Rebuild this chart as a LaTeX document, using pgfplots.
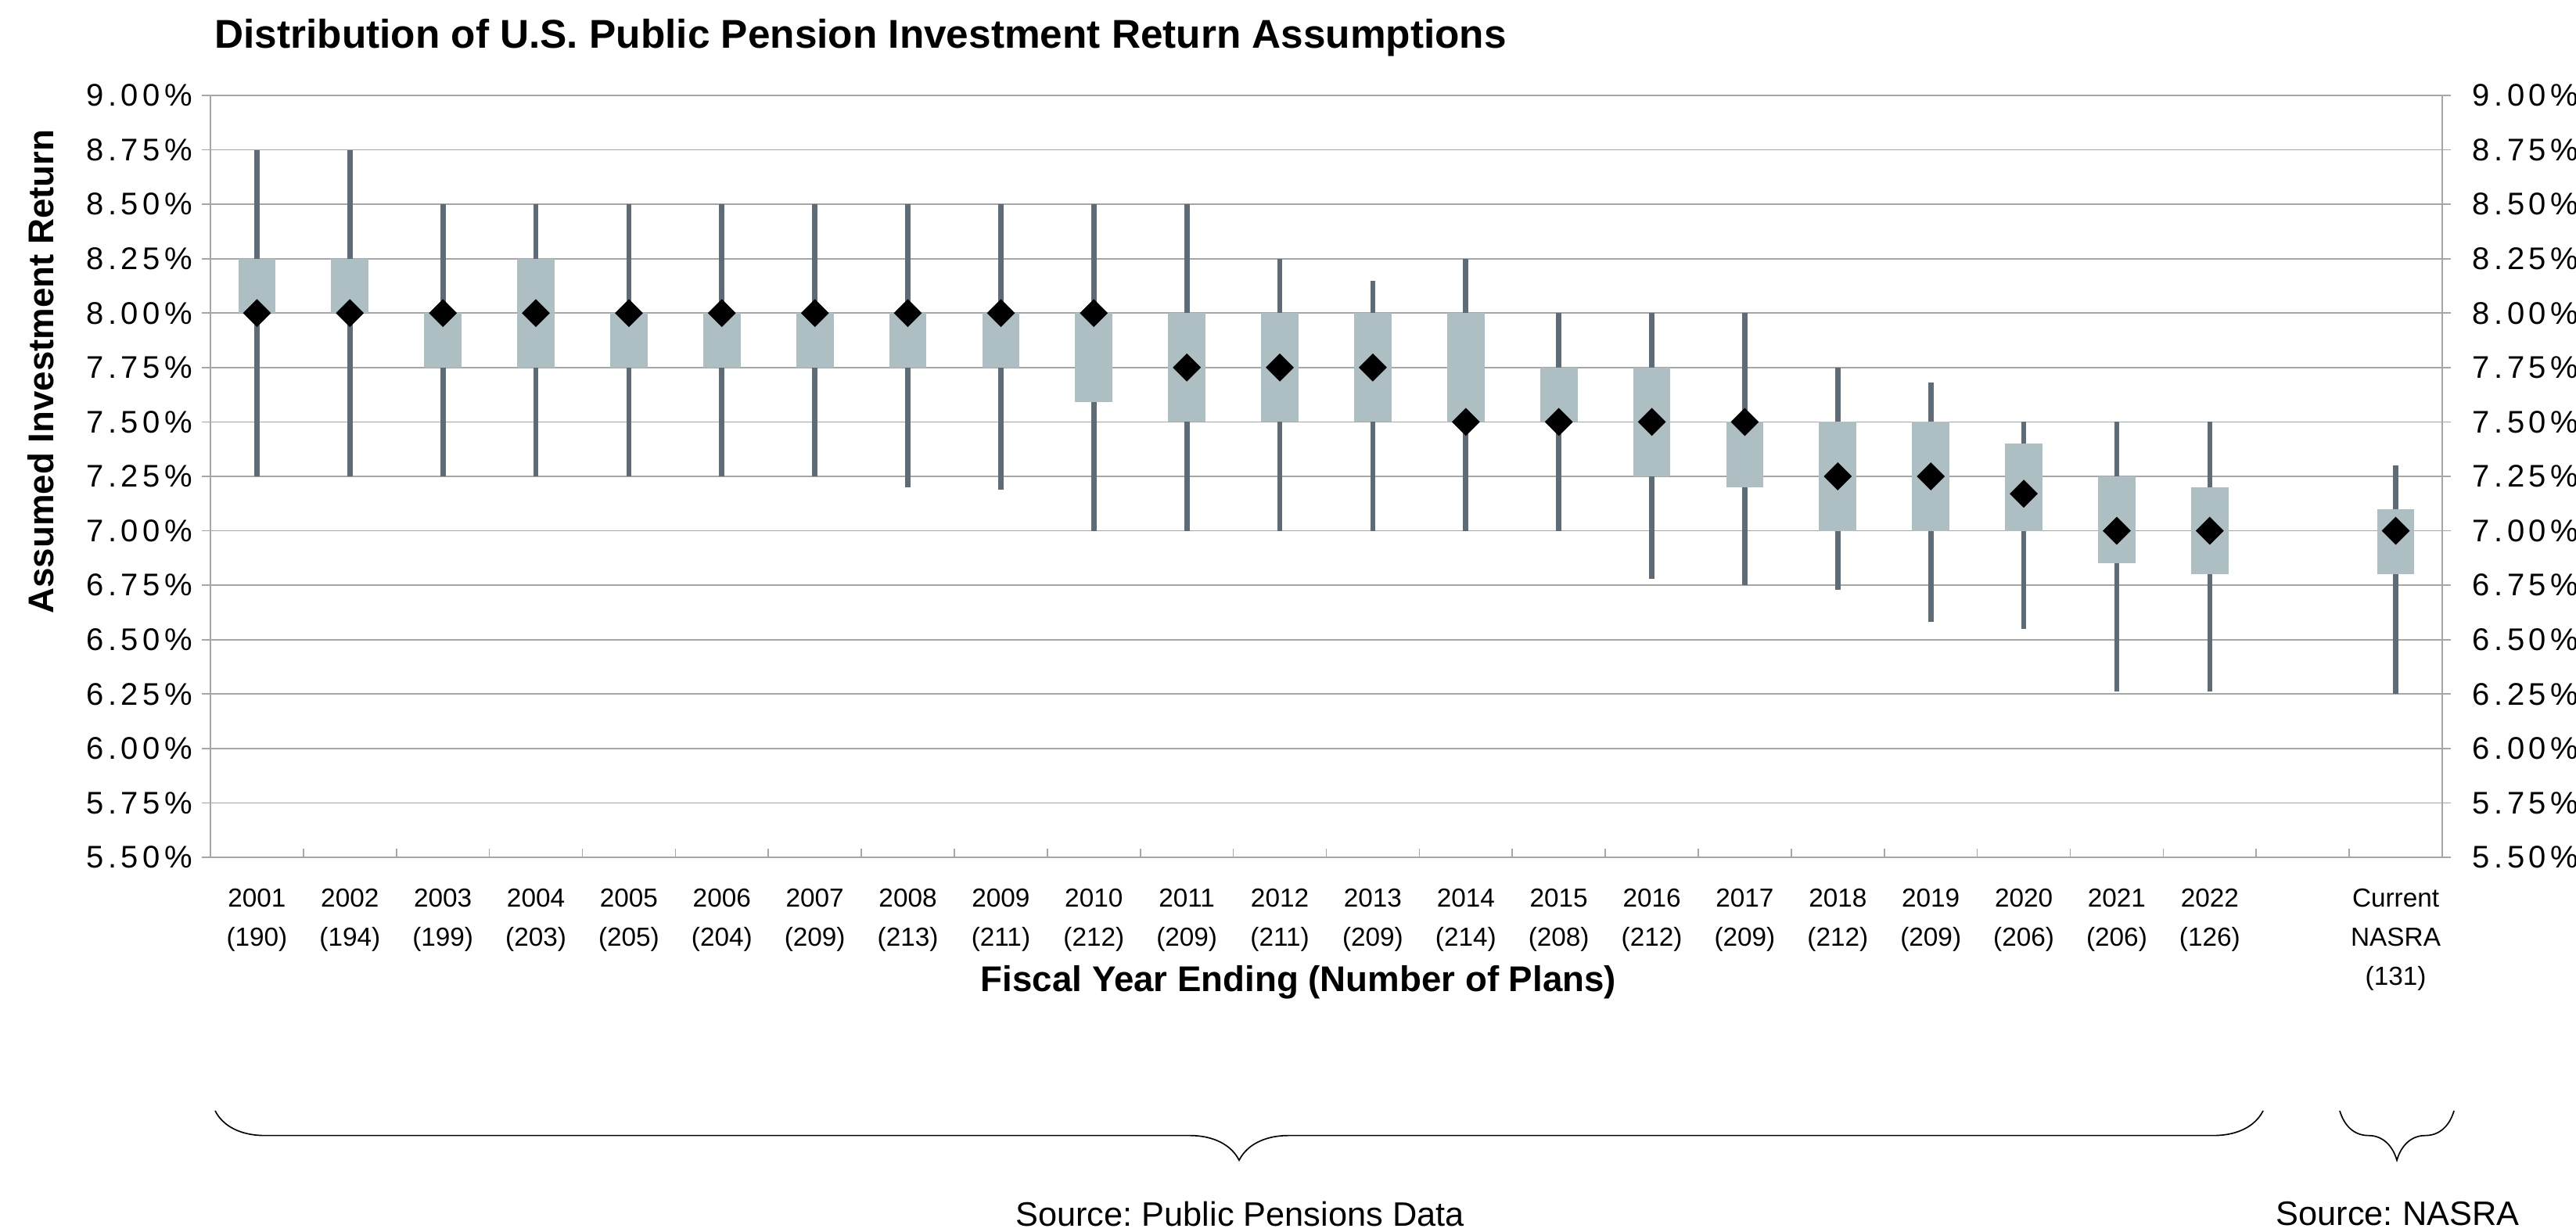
\documentclass[border=0pt]{standalone}
\usepackage{pgfplots}
\pgfplotsset{compat=1.18}
\usepackage{pgfplotstable}
\usepackage{fontspec}
\setmainfont{Liberation Sans}
\usetikzlibrary{decorations.pathreplacing}
\definecolor{boxc}{HTML}{ADBFC3}
\definecolor{whisk}{HTML}{5E6C77}
\definecolor{gridc}{HTML}{A6A6A6}
\frenchspacing

\pgfplotstableread{
x lo q1 med q3 hi
0 7.25 8.00 8.00 8.25 8.75
1 7.25 8.00 8.00 8.25 8.75
2 7.25 7.75 8.00 8.00 8.50
3 7.25 7.75 8.00 8.25 8.50
4 7.25 7.75 8.00 8.00 8.50
5 7.25 7.75 8.00 8.00 8.50
6 7.25 7.75 8.00 8.00 8.50
7 7.20 7.75 8.00 8.00 8.50
8 7.19 7.75 8.00 8.00 8.50
9 7.00 7.59 8.00 8.00 8.50
10 7.00 7.50 7.75 8.00 8.50
11 7.00 7.50 7.75 8.00 8.25
12 7.00 7.50 7.75 8.00 8.15
13 7.00 7.50 7.50 8.00 8.25
14 7.00 7.50 7.50 7.75 8.00
15 6.78 7.25 7.50 7.75 8.00
16 6.75 7.20 7.50 7.50 8.00
17 6.73 7.00 7.25 7.50 7.75
18 6.58 7.00 7.25 7.50 7.68
19 6.55 7.00 7.17 7.40 7.50
20 6.26 6.85 7.00 7.25 7.50
21 6.26 6.80 7.00 7.20 7.50
23 6.25 6.80 7.00 7.10 7.30
}\data

\pgfplotsset{
  /pgf/number format/assume math mode=true,
  common/.style={
    at={(80.7pt,143.7pt)}, anchor=south west,
    scale only axis, width=855.9pt, height=292.2pt,
    xmin=-0.5, xmax=23.5, ymin=5.5, ymax=9,
    ytick={5.5,5.75,6,6.25,6.5,6.75,7,7.25,7.5,7.75,8,8.25,8.5,8.75,9},
    yticklabel={\pgfmathprintnumber[fixed,fixed zerofill,precision=2]{\tick}\%},
    yticklabel style={font=\fontsize{12}{14}\selectfont\addfontfeature{LetterSpace=14}, text=black},
  }
}

\begin{document}
\begin{tikzpicture}
\useasboundingbox (0,0) rectangle (987.9pt,472.5pt);
\begin{axis}[
  common,
  axis line style={gridc, line width=0.5pt},
  ymajorgrids, grid style={gridc, line width=0.5pt},
  tick align=center, major tick length=6.6pt, minor tick length=3.3pt,
  ytick pos=both, xtick pos=left,
  y tick style={gridc, line width=0.5pt},
  yticklabel style={anchor=east, xshift=0pt},
  xtick={0,...,21,23},
  xticklabels={{2001\\(190)},{2002\\(194)},{2003\\(199)},{2004\\(203)},{2005\\(205)},{2006\\(204)},{2007\\(209)},{2008\\(213)},{2009\\(211)},{2010\\(212)},{2011\\(209)},{2012\\(211)},{2013\\(209)},{2014\\(214)},{2015\\(208)},{2016\\(212)},{2017\\(209)},{2018\\(212)},{2019\\(209)},{2020\\(206)},{2021\\(206)},{2022\\(126)},{Current\\NASRA\\(131)}},
  xticklabel style={font=\fontsize{10}{15}\selectfont, align=center, anchor=north, yshift=-5.3pt},
  major x tick style={draw=none},
  minor xtick={-0.5,0.5,...,23.5},
  minor x tick style={gridc, line width=0.5pt, yshift=1.65pt},
]
% whiskers
\addplot[mark=none, draw=none, forget plot,
  error bars/.cd, y dir=both, y explicit, error mark=none,
  error bar style={draw=whisk, line width=2pt}]
  table[x=x, y=med, y error plus expr=\thisrow{hi}-\thisrow{med}, y error minus expr=\thisrow{med}-\thisrow{lo}] {\data};
% boxes
\addplot[mark=none, draw=none, forget plot,
  error bars/.cd, y dir=both, y explicit, error mark=none,
  error bar style={draw=boxc, line width=14.3pt}]
  table[x=x, y=med, y error plus expr=\thisrow{q3}-\thisrow{med}, y error minus expr=\thisrow{med}-\thisrow{q1}] {\data};
% medians
\addplot[only marks, mark=square*, mark size=3.6pt,
  mark options={rotate=45, fill=black, draw=black}]
  table[x=x, y=med] {\data};
\end{axis}
\begin{axis}[
  common,
  hide x axis,
  axis y line*=right,
  axis line style={draw=none},
  ytick style={draw=none},
  yticklabel pos=right,
  yticklabel style={anchor=west, xshift=8pt},
]
\addplot[draw=none, mark=none] coordinates {(0,7)};
\end{axis}
% title and labels
\node[anchor=west, font=\fontsize{15.4}{18}\selectfont\bfseries] at (78.8pt,457.9pt) {Distribution of U.S. Public Pension Investment Return Assumptions};
\node[rotate=90, font=\fontsize{13.7}{16}\selectfont\bfseries] at (15.6pt,330pt) {Assumed Investment Return};
\node[font=\fontsize{13.7}{16}\selectfont\bfseries] at (498pt,95.7pt) {Fiscal Year Ending (Number of Plans)};
% braces
\draw[black, line width=0.5pt, decorate, decoration={brace, mirror, amplitude=19pt}] (82.5pt,46.5pt) -- (867.9pt,46.5pt);
\draw[black, line width=0.5pt, decorate, decoration={brace, mirror, amplitude=19pt}] (897.3pt,46.5pt) -- (941.1pt,46.5pt);
\node[font=\fontsize{13}{15}\selectfont] at (475.5pt,6.9pt) {Source: Public Pensions Data};
\node[font=\fontsize{13}{15}\selectfont] at (919.5pt,6.9pt) {Source: NASRA};
\end{tikzpicture}
\end{document}
